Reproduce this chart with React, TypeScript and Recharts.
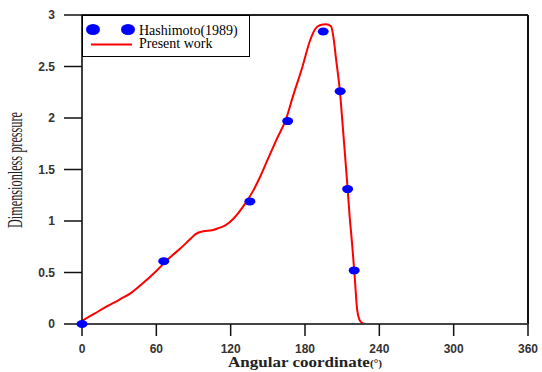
import React from 'react';
import { ComposedChart, Line, Scatter, XAxis, YAxis, ReferenceLine, Legend } from 'recharts';

// Present work (solid red curve)
const lineAngles = [0, 10, 20, 30, 40, 50, 60, 70, 80, 87, 92, 98, 105, 110, 116, 122, 130, 138, 143, 150, 157, 165, 170, 178, 184, 188, 192, 197, 201, 203, 205, 208, 211, 214, 216, 218, 220, 222, 224, 226, 229, 240, 300, 355];
const linePressures = [0.03, 0.1, 0.17, 0.235, 0.305, 0.405, 0.515, 0.635, 0.74, 0.82, 0.875, 0.9, 0.91, 0.93, 0.96, 1.02, 1.14, 1.29, 1.41, 1.6, 1.79, 2.0, 2.2, 2.5, 2.75, 2.86, 2.9, 2.91, 2.89, 2.78, 2.58, 2.28, 1.84, 1.38, 1.05, 0.78, 0.48, 0.15, 0.04, 0.01, 0, 0, 0, 0];

// Hashimoto (1989) (blue dots)
const hashiAngles = [0, 66, 135.5, 166, 194.7, 208.4, 214.4, 219.7];
const hashiPressures = [0, 0.61, 1.19, 1.97, 2.84, 2.26, 1.31, 0.52];

const xTicks = [0, 60, 120, 180, 240, 300, 360];
const yTicks = [0, 0.5, 1, 1.5, 2, 2.5, 3];

const lineData = lineAngles.map((x, i) => ({ x, p: linePressures[i] }));
const hashiData = hashiAngles.map((x, i) => ({ x, p: hashiPressures[i] }));

const tickStyle = { fontFamily: 'Liberation Sans, Arial, sans-serif', fontSize: 12, fontWeight: 700, fill: '#333' };

const Dot = (props: any) => <ellipse cx={props.cx} cy={props.cy} rx={5.5} ry={4} fill="#0000ff" />;

const LegendBox = () => (
  <div style={{ width: 168, height: 42, border: '1.5px solid #000', boxSizing: 'border-box', background: '#fff' }}>
    <svg width={165} height={39} style={{ display: 'block' }}>
      <ellipse cx={10} cy={13.5} rx={7} ry={5.5} fill="#0000ff" />
      <ellipse cx={45} cy={13.5} rx={7} ry={5.5} fill="#0000ff" />
      <text x={56} y={18.5} fontFamily="Liberation Serif, Times New Roman, serif" fontSize={14} fill="#000">Hashimoto(1989)</text>
      <line x1={8} y1={28.5} x2={49} y2={28.5} stroke="#ff0000" strokeWidth={2} />
      <text x={56} y={32} fontFamily="Liberation Serif, Times New Roman, serif" fontSize={14} fill="#000">Present work</text>
    </svg>
  </div>
);

const XTitle = (props: any) => {
  const vb = props.viewBox || {};
  const cx = vb.x + vb.width / 2;
  return (
    <text x={cx} y={367} textAnchor="middle" fontFamily="Liberation Serif, Times New Roman, serif" fontSize={15} fontWeight={700} fill="#222" textLength={154} lengthAdjust="spacingAndGlyphs">
      Angular coordinate<tspan fontSize={10}>(°)</tspan>
    </text>
  );
};

const YTitle = () => (
  <text x={0} y={0} transform="translate(22,170) rotate(-90)" textAnchor="middle" fontFamily="Liberation Serif, Times New Roman, serif" fontSize={20} fill="#222" textLength={116} lengthAdjust="spacingAndGlyphs">
    Dimensionless pressure
  </text>
);

export default function App() {
  return (
    <div style={{ position: 'absolute', left: 0, top: 0, background: '#fff' }}>
      <ComposedChart width={542} height={372} margin={{ top: 15, right: 14, left: 0, bottom: 0 }}>
        <XAxis
          dataKey="x"
          type="number"
          domain={[0, 360]}
          ticks={xTicks}
          interval={0}
          allowDuplicatedCategory={false}
          tickSize={12}
          tickMargin={8}
          height={48}
          axisLine={{ stroke: '#444', strokeWidth: 2 }}
          tickLine={{ stroke: '#111', strokeWidth: 1.5 }}
          tick={tickStyle}
          label={<XTitle />}
        />
        <YAxis
          type="number"
          domain={[0, 3]}
          ticks={yTicks}
          interval={0}
          width={82}
          tickSize={18}
          tickMargin={9}
          axisLine={{ stroke: '#000', strokeWidth: 1.5 }}
          tickLine={{ stroke: '#111', strokeWidth: 1.5 }}
          tick={tickStyle}
          label={<YTitle />}
        />
        <ReferenceLine y={3} stroke="#222" strokeWidth={2} />
        <ReferenceLine x={360} stroke="#111" strokeWidth={2} />
        <Line data={lineData} dataKey="p" type="monotone" stroke="#ff0000" strokeWidth={2} dot={false} isAnimationActive={false} legendType="line" />
        <Scatter data={hashiData} dataKey="p" fill="#0000ff" shape={Dot} isAnimationActive={false} />
        <Legend
          layout="horizontal"
          verticalAlign="middle"
          align="center"
          content={() => <LegendBox />}
          wrapperStyle={{ position: 'absolute', left: 82, top: 15, width: 168, height: 42 }}
        />
      </ComposedChart>
    </div>
  );
}
